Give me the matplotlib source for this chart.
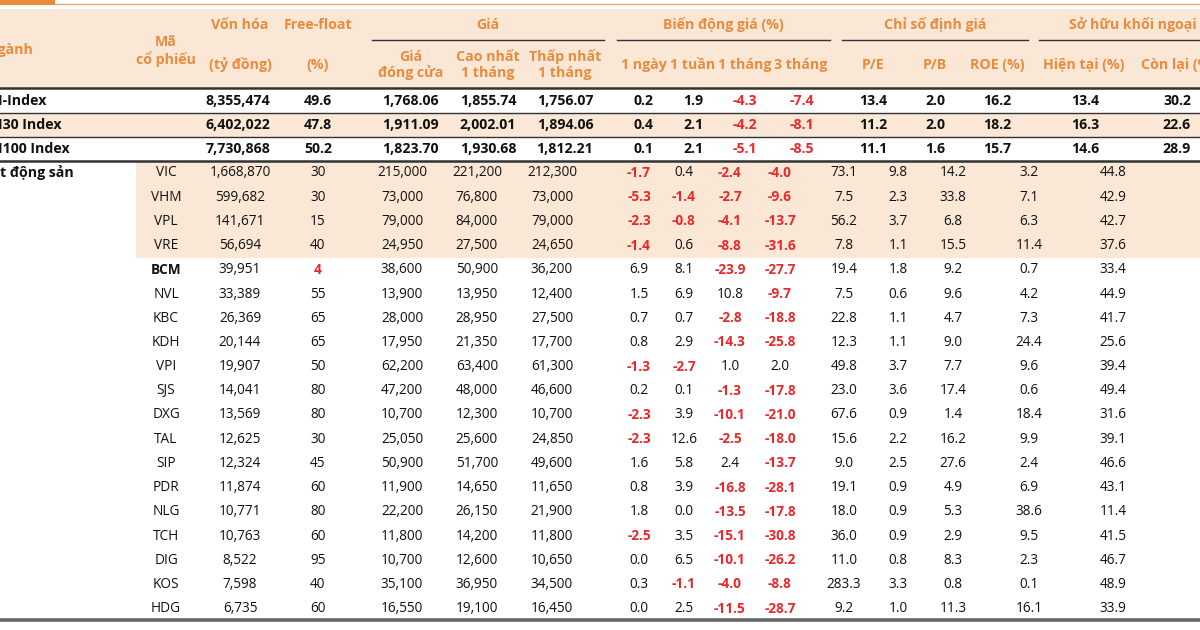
import matplotlib
matplotlib.use("Agg")
import matplotlib.pyplot as plt
from matplotlib.patches import Rectangle

plt.rcParams['font.family'] = ['Open Sans', 'DejaVu Sans']

# ---------------- data ----------------
sector = "Bất động sản"

index_names = ["VN-Index", "VN30 Index", "VN100 Index"]
index_mcap = [8355474, 6402022, 7730868]
index_ff = [49.6, 47.8, 50.2]
index_close = [1768.06, 1911.09, 1823.70]
index_high = [1855.74, 2002.01, 1930.68]
index_low = [1756.07, 1894.06, 1812.21]
index_1d = [0.2, 0.4, 0.1]
index_1w = [1.9, 2.1, 2.1]
index_1m = [-4.3, -4.2, -5.1]
index_3m = [-7.4, -8.1, -8.5]
index_pe = [13.4, 11.2, 11.1]
index_pb = [2.0, 2.0, 1.6]
index_roe = [16.2, 18.2, 15.7]
index_fnow = [13.4, 16.3, 14.6]
index_froom = [30.2, 22.6, 28.9]

tickers = ["VIC", "VHM", "VPL", "VRE", "BCM", "NVL", "KBC", "KDH", "VPI", "SJS",
           "DXG", "TAL", "SIP", "PDR", "NLG", "TCH", "DIG", "KOS", "HDG"]
mcap = [1668870, 599682, 141671, 56694, 39951, 33389, 26369, 20144, 19907, 14041,
        13569, 12625, 12324, 11874, 10771, 10763, 8522, 7598, 6735]
freefloat = [30, 30, 15, 40, 4, 55, 65, 65, 50, 80, 80, 30, 45, 60, 80, 60, 95, 40, 60]
close = [215000, 73000, 79000, 24950, 38600, 13900, 28000, 17950, 62200, 47200,
         10700, 25050, 50900, 11900, 22200, 11800, 10700, 35100, 16550]
high1m = [221200, 76800, 84000, 27500, 50900, 13950, 28950, 21350, 63400, 48000,
          12300, 25600, 51700, 14650, 26150, 14200, 12600, 36950, 19100]
low1m = [212300, 73000, 79000, 24650, 36200, 12400, 27500, 17700, 61300, 46600,
         10700, 24850, 49600, 11650, 21900, 11800, 10650, 34500, 16450]
chg_1d = [-1.7, -5.3, -2.3, -1.4, 6.9, 1.5, 0.7, 0.8, -1.3, 0.2,
          -2.3, -2.3, 1.6, 0.8, 1.8, -2.5, 0.0, 0.3, 0.0]
chg_1w = [0.4, -1.4, -0.8, 0.6, 8.1, 6.9, 0.7, 2.9, -2.7, 0.1,
          3.9, 12.6, 5.8, 3.9, 0.0, 3.5, 6.5, -1.1, 2.5]
chg_1m = [-2.4, -2.7, -4.1, -8.8, -23.9, 10.8, -2.8, -14.3, 1.0, -1.3,
          -10.1, -2.5, 2.4, -16.8, -13.5, -15.1, -10.1, -4.0, -11.5]
chg_3m = [-4.0, -9.6, -13.7, -31.6, -27.7, -9.7, -18.8, -25.8, 2.0, -17.8,
          -21.0, -18.0, -13.7, -28.1, -17.8, -30.8, -26.2, -8.8, -28.7]
pe = [73.1, 7.5, 56.2, 7.8, 19.4, 7.5, 22.8, 12.3, 49.8, 23.0,
      67.6, 15.6, 9.0, 19.1, 18.0, 36.0, 11.0, 283.3, 9.2]
pb = [9.8, 2.3, 3.7, 1.1, 1.8, 0.6, 1.1, 1.1, 3.7, 3.6,
      0.9, 2.2, 2.5, 0.9, 0.9, 0.9, 0.8, 3.3, 1.0]
roe = [14.2, 33.8, 6.8, 15.5, 9.2, 9.6, 4.7, 9.0, 7.7, 17.4,
       1.4, 16.2, 27.6, 4.9, 5.3, 2.9, 8.3, 0.8, 11.3]
foreign_now = [3.2, 7.1, 6.3, 11.4, 0.7, 4.2, 7.3, 24.4, 9.6, 0.6,
               18.4, 9.9, 2.4, 6.9, 38.6, 9.5, 2.3, 0.1, 16.1]
foreign_room = [44.8, 42.9, 42.7, 37.6, 33.4, 44.9, 41.7, 25.6, 39.4, 49.4,
                31.6, 39.1, 46.6, 43.1, 11.4, 41.5, 46.7, 48.9, 33.9]

highlight_rows = ["VIC", "VHM", "VPL", "VRE"]
bold_tickers = ["BCM"]

# ---------------- style ----------------
ORANGE = "#E98B3C"
PEACH = "#FBE7D6"
RED = "#E8292B"
BLACK = "#111111"
LINE = "#333333"

fig = plt.figure(figsize=(12, 6.3), dpi=100)
ax = fig.add_axes([0, 0, 1, 1])
ax.set_xlim(0, 1200)
ax.set_ylim(630, 0)
ax.axis("off")

# top tab + line
ax.add_patch(Rectangle((0, 0), 55, 4.5, color=ORANGE, lw=0))
ax.plot([55, 1200], [3.8, 3.8], color="#F0A86A", lw=1.0)

# header background
ax.add_patch(Rectangle((0, 9), 1200, 79, color=PEACH, lw=0))

hfs = 10.2
def htext(x, y, s, ha="center"):
    ax.text(x, y, s, ha=ha, va="center", color=ORANGE, fontsize=hfs, fontweight="bold")

htext(-13, 50, "Ngành", ha="left")
htext(166, 42, "Mã")
htext(166, 59, "cổ phiếu")
htext(240, 25, "Vốn hóa")
htext(240, 65, "(tỷ đồng)")
htext(318, 25, "Free-float")
htext(318, 65, "(%)")
htext(488, 25, "Giá")
htext(411, 57, "Giá")
htext(411, 73, "đóng cửa")
htext(488, 57, "Cao nhất")
htext(488, 73, "1 tháng")
htext(565, 57, "Thấp nhất")
htext(565, 73, "1 tháng")
htext(723, 25, "Biến động giá (%)")
htext(644, 65, "1 ngày")
htext(693, 65, "1 tuần")
htext(745, 65, "1 tháng")
htext(801, 65, "3 tháng")
htext(935, 25, "Chỉ số định giá")
htext(873, 65, "P/E")
htext(935, 65, "P/B")
htext(997, 65, "ROE (%)")
htext(1069, 25, "Sở hữu khối ngoại (%)", ha="left")
htext(1084, 65, "Hiện tại (%)")
htext(1141, 65, "Còn lại (%)", ha="left")

for x0, x1 in [(372, 604), (617, 830), (842, 1028), (1039, 1200)]:
    ax.plot([x0, x1], [40, 40], color=LINE, lw=1.0)

# ---------------- index rows ----------------
idx_y0, idx_dy = 101, 24
ax.add_patch(Rectangle((0, 112.5), 1200, 24, color=PEACH, lw=0))
ax.plot([0, 1200], [88, 88], color=LINE, lw=1.8)
ax.plot([0, 1200], [112.5, 112.5], color=LINE, lw=1.0)
ax.plot([0, 1200], [136.5, 136.5], color=LINE, lw=1.0)
ax.plot([0, 1200], [160.5, 160.5], color=LINE, lw=1.8)

idx_cols = [238, 318, 410, 488, 565, 643, 693, 745, 802, 873, 935, 997, 1085, 1177]

def chg_color(v):
    return RED if v < 0 else BLACK

ifs = 10.2
for i, name in enumerate(index_names):
    y = idx_y0 + i * idx_dy
    ax.text(-17.5, y, name, ha="left", va="center", fontsize=ifs, fontweight="bold", color=BLACK)
    vals = [
        (f"{index_mcap[i]:,}", BLACK),
        (f"{index_ff[i]:.1f}", BLACK),
        (f"{index_close[i]:,.2f}", BLACK),
        (f"{index_high[i]:,.2f}", BLACK),
        (f"{index_low[i]:,.2f}", BLACK),
        (f"{index_1d[i]:.1f}", chg_color(index_1d[i])),
        (f"{index_1w[i]:.1f}", chg_color(index_1w[i])),
        (f"{index_1m[i]:.1f}", chg_color(index_1m[i])),
        (f"{index_3m[i]:.1f}", chg_color(index_3m[i])),
        (f"{index_pe[i]:.1f}", BLACK),
        (f"{index_pb[i]:.1f}", BLACK),
        (f"{index_roe[i]:.1f}", BLACK),
        (f"{index_fnow[i]:.1f}", BLACK),
        (f"{index_froom[i]:.1f}", BLACK),
    ]
    for x, (s, c) in zip(idx_cols, vals):
        ax.text(x, y, s, ha="center", va="center", fontsize=ifs, fontweight="bold", color=c)

# ---------------- stock rows ----------------
st_y0, st_dy = 173, 24.2
n_hl = len(highlight_rows)
ax.add_patch(Rectangle((136, 161.5), 1064, st_y0 + (n_hl - 0.5) * st_dy - 161.5,
                       color=PEACH, lw=0))

ax.text(-18.5, st_y0, sector, ha="left", va="center", fontsize=ifs, fontweight="bold", color=BLACK)

st_cols = [166, 240, 318, 402, 477, 552, 639, 684, 730, 780, 844, 898, 953, 1029, 1113]
sfs = 9.8
for i, t in enumerate(tickers):
    y = st_y0 + i * st_dy
    cells = [
        (t, BLACK, t in bold_tickers),
        (f"{mcap[i]:,}", BLACK, False),
        (f"{freefloat[i]}", RED if freefloat[i] < 10 else BLACK, freefloat[i] < 10),
        (f"{close[i]:,}", BLACK, False),
        (f"{high1m[i]:,}", BLACK, False),
        (f"{low1m[i]:,}", BLACK, False),
    ]
    for v in (chg_1d[i], chg_1w[i], chg_1m[i], chg_3m[i]):
        cells.append((f"{v:.1f}", chg_color(v), v < 0))
    for v in (pe[i], pb[i], roe[i], foreign_now[i], foreign_room[i]):
        cells.append((f"{v:.1f}", BLACK, False))
    for x, (s, c, b) in zip(st_cols, cells):
        ax.text(x, y, s, ha="center", va="center", fontsize=sfs,
                fontweight="bold" if b else "normal", color=c)

# bottom rule
ax.plot([0, 1200], [619.5, 619.5], color="#666666", lw=2.6)

fig.savefig("out.png", dpi=100, facecolor="white")
